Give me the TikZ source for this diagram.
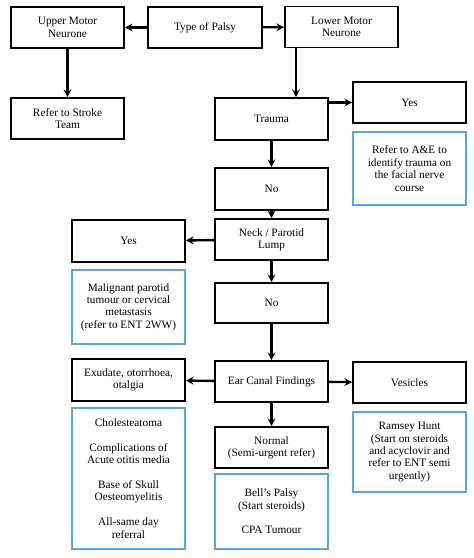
\documentclass[tikz,border=0pt]{standalone}
\usepackage{fontspec}
\setmainfont{Liberation Serif}
\definecolor{noteblue}{RGB}{91,164,222}
\begin{document}
\begin{tikzpicture}[
    x=1pt, y=-1pt,
    box/.style={draw, line width=1.6pt, minimum width=113pt, minimum height=41pt, inner sep=1pt, font=\fontsize{11.3}{12.4}\selectfont, align=center},
    note/.style={box, draw=noteblue},
    arrow/.style={->, line width=2.4pt, >=stealth}
]
    \useasboundingbox (0,0) rectangle (474,558);

    \node[box] (upper) at (67.5, 27.5) {Upper Motor\\Neurone};
    \node[box, minimum width=114pt] (palsy) at (205, 27.5) {Type of Palsy};
    \node[box] (lower) at (341.5, 27) {Lower Motor\\Neurone};
    \node[box] (stroke) at (67.5, 118.5) {Refer to Stroke\\Team};

    \node[box, minimum height=42pt] (trauma) at (271.5, 119) {Trauma};
    \node[box] (yesA) at (409.5, 102.5) {Yes};
    \node[note, minimum height=73pt] (ae) at (409.5, 168.5) {Refer to A\&E to\\identify trauma on\\the facial nerve\\course};

    \node[box, minimum height=42pt] (noA) at (271.5, 189) {No};
    \node[box] (lump) at (271.5, 239.5) {Neck / Parotid\\Lump};
    \node[box, minimum height=42pt] (yesB) at (128.5, 241) {Yes};
    \node[note, minimum height=74pt] (malig) at (128.5, 307) {Malignant parotid\\tumour or cervical\\metastasis\\(refer to ENT 2WW)};
    \node[box, minimum height=40pt] (noB) at (271.5, 303) {No};

    \node[box] (ear) at (271.5, 381.5) {Ear Canal Findings};
    \node[box, minimum height=42pt] (exud) at (128.5, 380) {Exudate, otorrhoea,\\otalgia};
    \node[box] (ves) at (409.5, 382.5) {Vesicles};
    \node[box] (normal) at (271.5, 447.5) {Normal\\(Semi-urgent refer)};

    \node[note, minimum height=141pt] (chol) at (128.5, 478.5) {Cholesteatoma\\[12.4pt]Complications of\\Acute otitis media\\[12.4pt]Base of Skull\\Oesteomyelitis\\[12.4pt]All-same day\\referral};
    \node[note, minimum height=75pt] (bell) at (271.5, 511.5) {Bell’s Palsy\\(Start steroids)\\[12.4pt]CPA Tumour};
    \node[note, minimum height=80pt] (ramsey) at (409.5, 452) {Ramsey Hunt\\(Start on steroids\\and acyclovir and\\refer to ENT semi\\urgently)};

    \draw[arrow] (palsy) -- (upper);
    \draw[arrow] (palsy) -- (lower);
    \draw[arrow] (upper) -- (stroke);
    \draw[arrow] ([xshift=-45.5pt]lower.south) -- ([xshift=24.5pt]trauma.north);
    \draw[arrow] (trauma.east |- yesA) -- (yesA);
    \draw[arrow] (trauma) -- (noA);
    \draw[arrow] (noA) -- (lump);
    \draw[arrow] (lump) -- (yesB);
    \draw[arrow] (lump) -- (noB);
    \draw[arrow] (noB) -- (ear);
    \draw[arrow] (ear) -- (exud);
    \draw[arrow] (ear) -- (ves);
    \draw[arrow] (ear) -- (normal);
\end{tikzpicture}
\end{document}
